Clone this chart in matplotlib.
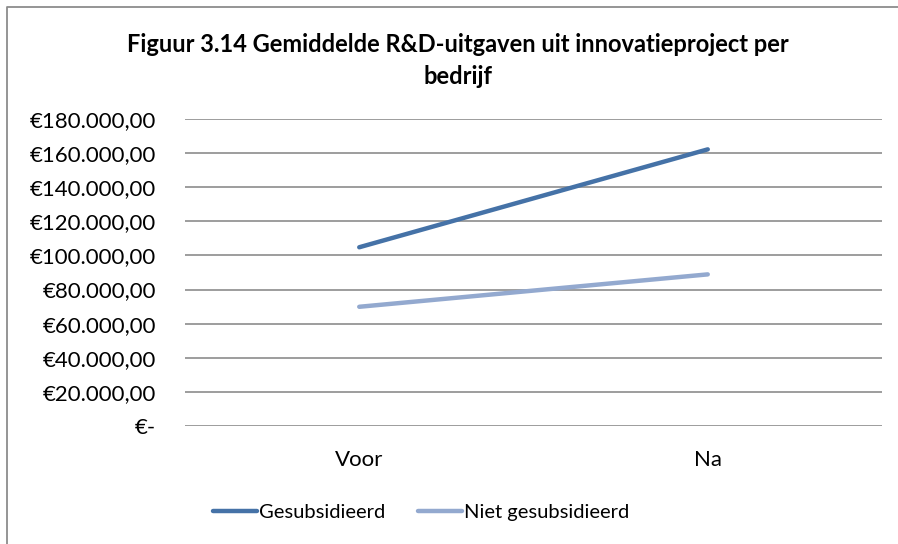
import matplotlib.pyplot as plt
from matplotlib.lines import Line2D

categories = ["Voor", "Na"]
gesubsidieerd = [104800, 162200]
niet_gesubsidieerd = [69900, 88900]
yticks = [0, 20000, 40000, 60000, 80000, 100000, 120000, 140000, 160000, 180000]
ytick_labels = ["€-", "€20.000,00", "€40.000,00", "€60.000,00", "€80.000,00",
                "€100.000,00", "€120.000,00", "€140.000,00", "€160.000,00", "€180.000,00"]

plt.rcParams['font.family'] = ['Lato', 'DejaVu Sans']

W, H = 898, 544
fig = plt.figure(figsize=(W / 100, H / 100), dpi=100)

# chart frame, only left and top edges show in the crop
fig.lines.append(Line2D([7 / W, 7 / W, 1], [0, 1 - 7 / H, 1 - 7 / H],
                        transform=fig.transFigure, color="#8c8c8c", linewidth=1.3))

ax = fig.add_axes([185 / W, (H - 426) / H, (882 - 185) / W, (426 - 119) / H])
x = [0, 1]
ax.plot(x, gesubsidieerd, color="#4572a7", lw=3.2, solid_capstyle="round", label="Gesubsidieerd")
ax.plot(x, niet_gesubsidieerd, color="#93a9cf", lw=3.2, solid_capstyle="round", label="Niet gesubsidieerd")

ax.set_xlim(-0.5, 1.5)
ax.set_ylim(0, 180000)
ax.set_yticks(yticks)
ax.set_yticklabels(ytick_labels, fontsize=16)
ax.set_xticks(x)
ax.set_xticklabels(categories, fontsize=16)
ax.tick_params(axis="y", length=0, pad=21)
ax.tick_params(axis="x", length=0, pad=17)
ax.grid(axis="y", color="#8c8c8c", linewidth=1.2)
ax.set_axisbelow(True)
for s in ax.spines.values():
    s.set_visible(False)

fig.text(458 / W, 1 - 44 / H, "Figuur 3.14 Gemiddelde R&D-uitgaven uit innovatieproject per",
         ha="center", va="center", fontsize=17, fontweight="bold")
fig.text(458 / W, 1 - 77 / H, "bedrijf", ha="center", va="center", fontsize=17, fontweight="bold")

fig.legend(loc="center", bbox_to_anchor=(421 / W, 1 - 512 / H), ncol=2, frameon=False,
           fontsize=14.5, handlelength=2.2, handletextpad=0.1, columnspacing=1.6)

fig.savefig("out.png", dpi=100)
